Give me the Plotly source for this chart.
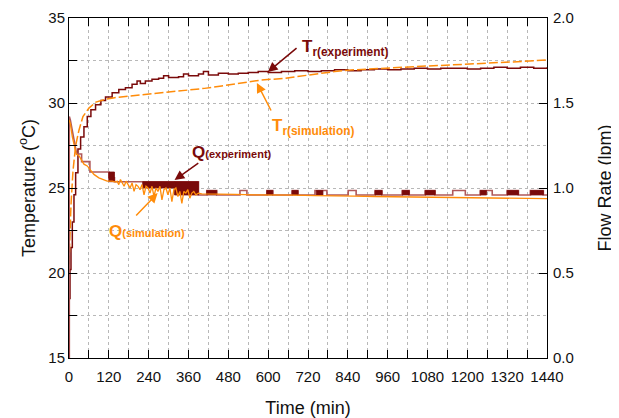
import plotly.graph_objects as go

# ---------------- data ----------------
# Reactor temperature, experiment (degC)
t_texp = [0, 1, 3, 6, 10, 15, 20, 27, 35, 45, 55, 66, 80, 96, 110, 130, 150, 170, 190,
          205, 215, 230, 250, 270, 285, 300, 330, 345, 360, 390, 405, 420, 450, 480, 510,
          540, 570, 600, 640, 680, 720, 760, 800, 840, 880, 920, 960, 1000, 1040, 1080,
          1120, 1160, 1200, 1240, 1280, 1320, 1360, 1400, 1440]
T_exp = [15.0, 18.5, 20.2, 21.5, 23.0, 24.6, 25.9, 27.3, 28.0, 28.6, 29.2, 29.6, 29.9,
         30.15, 30.35, 30.6, 30.8, 30.9, 31.1, 31.3, 31.15, 31.3, 31.4, 31.45, 31.6, 31.5,
         31.55, 31.7, 31.6, 31.7, 31.85, 31.65, 31.75, 31.7, 31.75, 31.8, 31.85, 31.8,
         31.85, 31.9, 31.85, 31.9, 31.95, 31.9, 31.95, 32.0, 31.95, 32.0, 32.05, 32.0,
         32.05, 32.05, 32.0, 32.05, 32.1, 32.05, 32.1, 32.05, 32.1]

# Reactor temperature, simulation (degC)
t_tsim = [0, 2, 6, 12, 20, 30, 42, 60, 81, 106, 133, 177, 230, 277, 340, 408, 460, 508,
          578, 649, 700, 749, 800, 849, 920, 1000, 1075, 1151, 1225, 1301, 1370, 1440]
T_sim = [20.5, 22.0, 24.0, 26.0, 27.5, 28.4, 29.2, 29.7, 30.05, 30.2, 30.3, 30.4, 30.5,
         30.57, 30.7, 30.86, 31.0, 31.15, 31.35, 31.45, 31.6, 31.74, 31.85, 31.94, 32.0,
         32.1, 32.17, 32.24, 32.3, 32.39, 32.45, 32.53]

# Flow rate, experiment (lpm): early profile, then baseline with periodic pulses
t_qexp_early = [0, 1, 4, 23, 38, 38, 63, 63, 120, 120, 137, 137, 390, 390]
Q_exp_early = [0.0, 1.42, 1.40, 1.20, 1.20, 1.155, 1.155, 1.094, 1.094, 1.06, 1.06,
               1.037, 1.037, 0.959]
q_base = 0.959
q_pulse = 0.985
pulse_start = [415, 515, 596, 672, 741, 841, 922, 1004, 1073, 1156, 1239, 1320, 1390]
pulse_end = [445, 536, 614, 690, 777, 865, 943, 1025, 1103, 1194, 1275, 1354, 1429]

# dense on/off switching windows of the experimental flow rate
blk_start = [120, 222, 318, 415, 596, 672, 745, 922, 1004, 1073, 1239, 1320, 1390]
blk_end = [137, 318, 390, 445, 614, 690, 765, 943, 1025, 1103, 1258, 1354, 1429]
blk_low = [1.037, 1.0, 0.959, 0.959, 0.959, 0.959, 0.959, 0.959, 0.959, 0.959, 0.959,
           0.959, 0.959]
blk_high = [1.094, 1.037, 1.037, 0.985, 0.985, 0.985, 0.985, 0.985, 0.985, 0.985, 0.985,
            0.985, 0.985]

# Flow rate, simulation (lpm)
t_qsim = [0, 4, 10, 16, 22, 30, 36, 45, 55, 62, 75, 90, 102, 115, 130, 141, 145, 150, 155,
          160, 166, 172, 178, 184, 190, 196, 202, 208, 214, 220, 226, 232, 238, 244, 250,
          256, 262, 268, 274, 280, 286, 292, 298, 304, 310, 316, 322, 328, 334, 340, 346,
          352, 358, 364, 370, 376, 382, 390, 400, 450, 500, 560, 620, 680, 740, 800, 860,
          920, 980, 1040, 1100, 1160, 1220, 1280, 1340, 1400, 1440]
Q_sim = [1.40, 1.38, 1.30, 1.25, 1.20, 1.19, 1.17, 1.14, 1.13, 1.11, 1.08, 1.06, 1.05,
         1.04, 1.04, 1.035, 1.04, 1.02, 1.05, 1.03, 1.01, 1.04, 1.02, 1.0, 1.03, 0.98, 1.02,
         1.01, 0.99, 1.02, 0.96, 1.01, 1.0, 0.97, 1.01, 0.95, 1.0, 0.98, 1.01, 0.93, 0.99,
         1.0, 0.96, 1.0, 0.92, 0.99, 1.0, 0.95, 0.98, 0.91, 0.98, 0.97, 0.99, 0.94, 0.97,
         0.98, 0.96, 0.97, 0.965, 0.965, 0.962, 0.96, 0.96, 0.958, 0.955, 0.955, 0.952,
         0.95, 0.948, 0.947, 0.945, 0.944, 0.942, 0.94, 0.94, 0.938, 0.937]

x_ticks = list(range(0, 1441, 60))
x_ticktext = [str(v) if v % 120 == 0 else "" for v in x_ticks]
y_ticks = [15 + 2.5 * i for i in range(9)]
y_ticktext = [str(int(v)) if v % 5 == 0 else "" for v in y_ticks]
y2_ticks = [0.0, 0.5, 1.0, 1.5, 2.0]
y2_ticktext = ["0.0", "0.5", "1.0", "1.5", "2.0"]

# ---------------- styling ----------------
DARK = "#7a0a0a"
ROSY = "#b0585a"
ORANGE = "#ff8c0a"
FONT = "Arial, 'Liberation Sans', sans-serif"

# build experimental flow rate step series from early profile + pulses
qe_t = list(t_qexp_early)
qe_q = list(Q_exp_early)
for s, e in zip(pulse_start, pulse_end):
    qe_t += [s, s, e, e]
    qe_q += [q_base, q_pulse, q_pulse, q_base]
qe_t.append(1440)
qe_q.append(q_base)

fig = go.Figure()

fig.add_trace(go.Scatter(x=qe_t, y=qe_q, yaxis="y2", mode="lines",
                         line=dict(color=ROSY, width=1.6), hoverinfo="skip"))

for s, e, lo, hi in zip(blk_start, blk_end, blk_low, blk_high):
    fig.add_trace(go.Scatter(x=[s, e, e, s, s], y=[lo, lo, hi, hi, lo], yaxis="y2",
                             mode="lines", fill="toself", fillcolor=DARK,
                             line=dict(color=DARK, width=0.8), hoverinfo="skip"))

fig.add_trace(go.Scatter(x=t_texp, y=T_exp, mode="lines", line_shape="hv",
                         line=dict(color=DARK, width=1.5)))

fig.add_trace(go.Scatter(x=t_qsim, y=Q_sim, yaxis="y2", mode="lines",
                         line=dict(color=ORANGE, width=1.3)))

fig.add_trace(go.Scatter(x=t_tsim, y=T_sim, mode="lines",
                         line=dict(color=ORANGE, width=1.5, dash="9px,3px")))


def arrow(x, y, ax, ay, color, yref="y"):
    fig.add_annotation(x=x, y=y, ax=ax, ay=ay, xref="x", yref=yref, axref="x", ayref=yref,
                       text="", showarrow=True, arrowhead=2, arrowsize=1.3,
                       arrowwidth=1.5, arrowcolor=color)


# T_r(experiment)
arrow(599, 31.82, 690, 33.3, DARK)
fig.add_annotation(x=696, y=33.24, xref="x", yref="y", xanchor="left", yanchor="middle",
                   text="<b>T<sub>r(experiment)</sub></b>", showarrow=False,
                   font=dict(family=FONT, size=17, color=DARK))
# T_r(simulation)
arrow(566, 31.18, 611, 29.47, ORANGE)
fig.add_annotation(x=605, y=28.6, xref="x", yref="y", xanchor="left", yanchor="middle",
                   text="<b>T<sub>r(simulation)</sub></b>", showarrow=False,
                   font=dict(family=FONT, size=17, color=ORANGE))
# Q(experiment)
arrow(318, 1.047, 394, 1.153, DARK, "y2")
fig.add_annotation(x=364, y=1.21, xref="x", yref="y2", xanchor="left", yanchor="middle",
                   text="<b>Q<span style='font-size:11px'>(experiment)</span></b>",
                   showarrow=False, font=dict(family=FONT, size=17, color=DARK))
# Q(simulation)
arrow(267, 0.97, 198, 0.83, ORANGE, "y2")
fig.add_annotation(x=113, y=0.745, xref="x", yref="y2", xanchor="left", yanchor="middle",
                   text="<b>Q<span style='font-size:11px'>(simulation)</span></b>",
                   showarrow=False, font=dict(family=FONT, size=17, color=ORANGE))

axis_common = dict(showline=True, linecolor="black", linewidth=1, ticks="inside",
                   ticklen=8, tickcolor="black", zeroline=False, automargin=False,
                   tickfont=dict(family=FONT, size=15, color="#111"))

# the page body adds an 8px offset, so the figure is sized to fit the window
fig.update_layout(
    width=611, height=410,
    margin=dict(l=61, r=72, t=10, b=60),
    paper_bgcolor="white", plot_bgcolor="white",
    showlegend=False,
    font=dict(family=FONT, color="#111"),
    xaxis=dict(range=[0, 1440], tickvals=x_ticks, ticktext=x_ticktext, mirror="ticks",
               showgrid=True, gridcolor="#b8b8b8", griddash="dot", gridwidth=1,
               ticklabelstandoff=5,
               title=dict(text="Time (min)", font=dict(family=FONT, size=18), standoff=17),
               **axis_common),
    yaxis=dict(range=[15, 35], tickvals=y_ticks, ticktext=y_ticktext,
               showgrid=True, gridcolor="#b8b8b8", griddash="dot", gridwidth=1,
               title=dict(text="Temperature (<sup>o</sup>C)", font=dict(family=FONT, size=18),
                          standoff=8),
               **axis_common),
    yaxis2=dict(range=[0, 2], tickvals=y2_ticks, ticktext=y2_ticktext, overlaying="y",
                side="right", showgrid=False, ticklabelstandoff=2,
                title=dict(text="Flow Rate (lpm)", font=dict(family=FONT, size=18),
                           standoff=25),
                **axis_common),
)

fig.write_html("out.html")
